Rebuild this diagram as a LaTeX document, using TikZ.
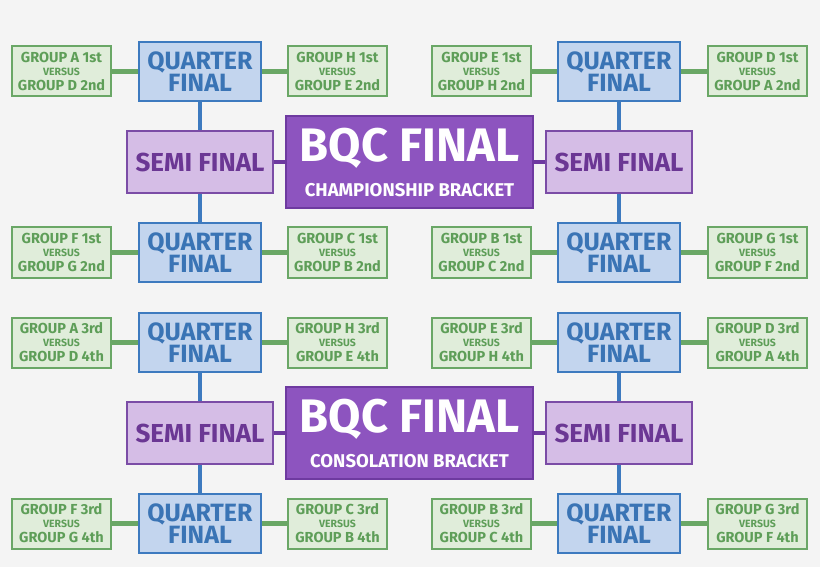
\documentclass[tikz,border=0pt]{standalone}
\usepackage{fontspec}
\setmainfont{Fira Sans}
\usetikzlibrary{positioning,backgrounds}
\definecolor{pagebg}{HTML}{F4F4F4}
\definecolor{grpfill}{HTML}{E0EDDA}
\definecolor{grpline}{HTML}{6AA766}
\definecolor{grptext}{HTML}{5E9E58}
\definecolor{qffill}{HTML}{C3D5EE}
\definecolor{qfline}{HTML}{3D7ABF}
\definecolor{qftext}{HTML}{3A74B5}
\definecolor{semifill}{HTML}{D5BDE6}
\definecolor{semiline}{HTML}{7B4CA6}
\definecolor{semitext}{HTML}{6B3794}
\definecolor{finfill}{HTML}{8D54BF}
\definecolor{finline}{HTML}{6E3AA0}
\newcommand{\matchup}[2]{#1\\[-2pt]{\fontsize{10.5}{10.5}\selectfont VERSUS}\\[0pt]#2}

\begin{document}
\begin{tikzpicture}[x=1pt,y=1pt]
    \tikzstyle{grp}=[draw=grpline, fill=grpfill, text=grptext, line width=2pt, minimum width=99pt, minimum height=50pt, inner sep=0pt, align=center, font=\bfseries\fontsize{14.5}{15}\selectfont]
    \tikzstyle{qf}=[draw=qfline, fill=qffill, text=qftext, line width=2pt, minimum width=122pt, minimum height=59pt, inner sep=0pt, align=center, font=\bfseries\fontsize{25}{22.5}\selectfont]
    \tikzstyle{semi}=[draw=semiline, fill=semifill, text=semitext, line width=2pt, minimum width=146pt, minimum height=62pt, inner sep=0pt, font=\bfseries\fontsize{26}{26}\selectfont]
    \tikzstyle{final}=[draw=finline, fill=finfill, text=white, line width=2pt, minimum width=247pt, minimum height=92pt, inner sep=0pt, align=center, font=\bfseries\fontsize{47}{40}\selectfont]
    \tikzstyle{grplink}=[draw=grpline, line width=4.5pt]
    \tikzstyle{qflink}=[draw=qfline, line width=4.5pt]
    \tikzstyle{finlink}=[draw=finline, line width=4.5pt]
    \useasboundingbox (0,0) rectangle (820,-567);
    % one bracket per half
    \foreach \h/\yy/\sub/\hi/\lo in {c/0/CHAMPIONSHIP/1st/2nd, s/271/CONSOLATION/3rd/4th} {
      \node[final] (fin\h) at (409.5,-162-\yy) {BQC FINAL\\[-5pt]{\fontsize{18.5}{18.5}\selectfont \sub{} BRACKET}};
      \node[semi] (semiL\h) [left=11pt of fin\h] {SEMI FINAL};
      \node[semi] (semiR\h) [right=11pt of fin\h] {SEMI FINAL};
      \node[qf] (qfLA\h) [above=28pt of semiL\h] {QUARTER\\FINAL};
      \node[qf] (qfLB\h) [below=28pt of semiL\h] {QUARTER\\FINAL};
      \node[qf] (qfRA\h) [above=28pt of semiR\h] {QUARTER\\FINAL};
      \node[qf] (qfRB\h) [below=28pt of semiR\h] {QUARTER\\FINAL};
      \node[grp] (gLA1\h) [left=26pt of qfLA\h] {\matchup{GROUP A \hi}{GROUP D \lo}};
      \node[grp] (gLA2\h) [right=25pt of qfLA\h] {\matchup{GROUP H \hi}{GROUP E \lo}};
      \node[grp] (gLB1\h) [left=26pt of qfLB\h] {\matchup{GROUP F \hi}{GROUP G \lo}};
      \node[grp] (gLB2\h) [right=25pt of qfLB\h] {\matchup{GROUP C \hi}{GROUP B \lo}};
      \node[grp] (gRA1\h) [left=25pt of qfRA\h] {\matchup{GROUP E \hi}{GROUP H \lo}};
      \node[grp] (gRA2\h) [right=26pt of qfRA\h] {\matchup{GROUP D \hi}{GROUP A \lo}};
      \node[grp] (gRB1\h) [left=25pt of qfRB\h] {\matchup{GROUP B \hi}{GROUP C \lo}};
      \node[grp] (gRB2\h) [right=26pt of qfRB\h] {\matchup{GROUP G \hi}{GROUP F \lo}};
    }
    \begin{scope}[on background layer]
      \fill[pagebg] (0,0) rectangle (820,-567);
      \foreach \h in {c,s} {
        \path (gLA1\h) edge[grplink] (qfLA\h)
        (qfLA\h) edge[grplink] (gLA2\h)
        (gLB1\h) edge[grplink] (qfLB\h)
        (qfLB\h) edge[grplink] (gLB2\h)
        (gRA1\h) edge[grplink] (qfRA\h)
        (qfRA\h) edge[grplink] (gRA2\h)
        (gRB1\h) edge[grplink] (qfRB\h)
        (qfRB\h) edge[grplink] (gRB2\h)
        (qfLA\h) edge[qflink] (qfLB\h)
        (qfRA\h) edge[qflink] (qfRB\h)
        (semiL\h) edge[finlink] (fin\h)
        (fin\h) edge[finlink] (semiR\h);
      }
    \end{scope}
\end{tikzpicture}
\end{document}
